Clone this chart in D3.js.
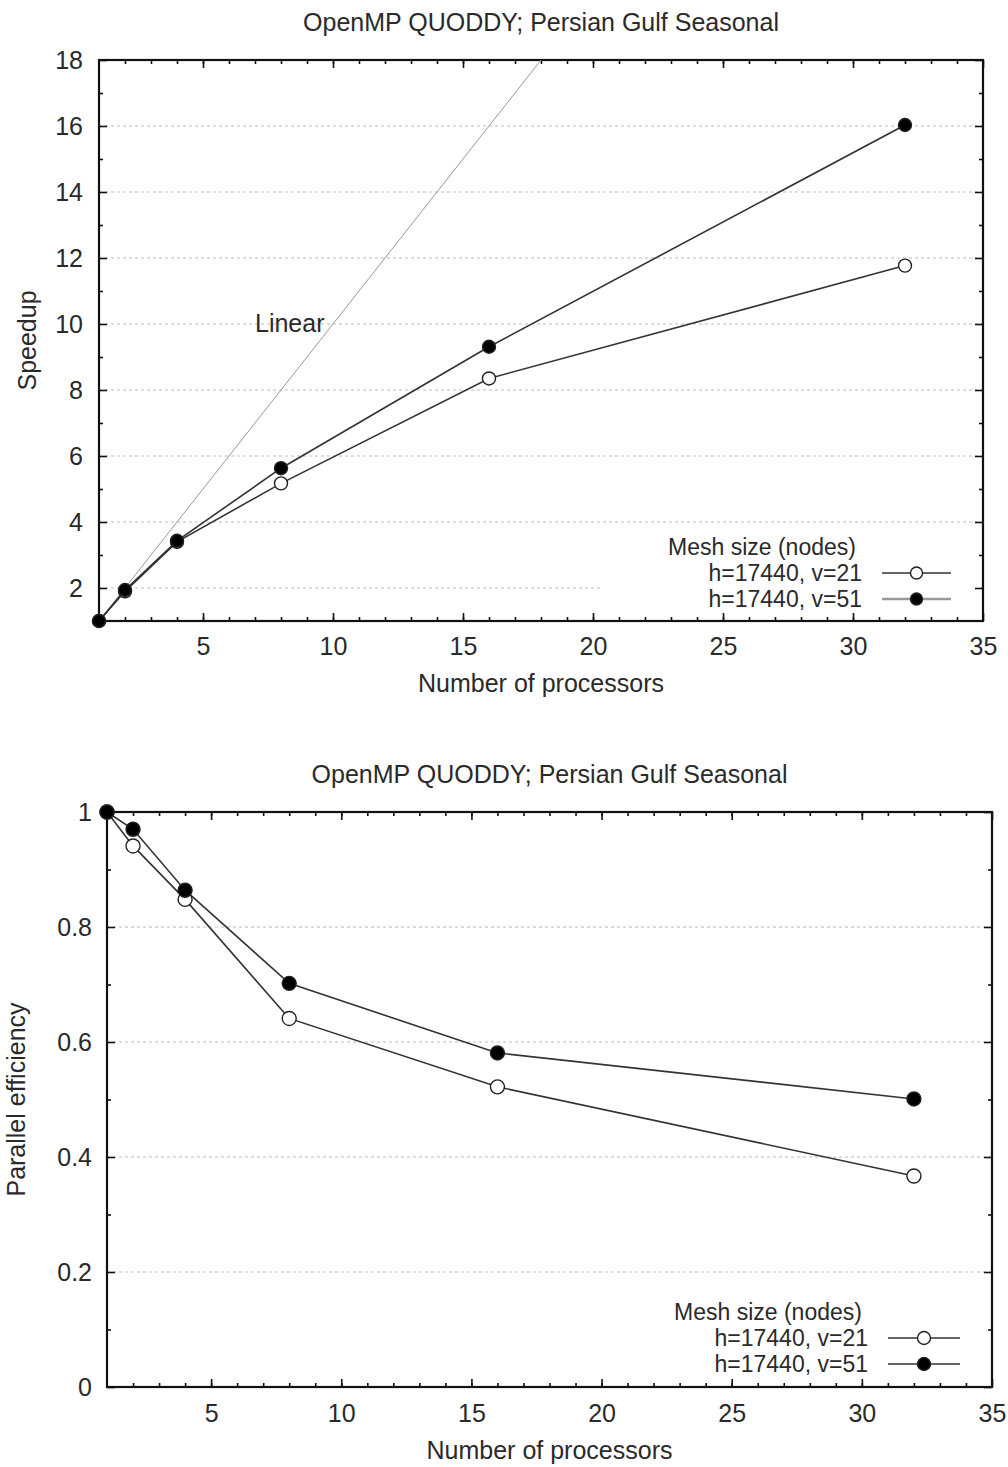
<!DOCTYPE html>
<html>
<head>
<meta charset="utf-8">
<script src="https://cdn.jsdelivr.net/npm/d3@7"></script>
<style>
  body { margin: 0; background: #fff; }
  text { font-family: "Liberation Sans", Arial, sans-serif; fill: #2a2a2a; }
</style>
</head>
<body>
<div id="chart"></div>
<script>
// data
const procs = [1, 2, 4, 8, 16, 32];
const speedup21 = [1, 1.9, 3.4, 5.17, 8.35, 11.77];
const speedup51 = [1, 1.94, 3.43, 5.63, 9.31, 16.03];
const eff21 = [1, 0.941, 0.848, 0.641, 0.522, 0.367];
const eff51 = [1, 0.97, 0.864, 0.702, 0.581, 0.501];
const linear = [1, 18];
const xTicks = [5, 10, 15, 20, 25, 30, 35];
const speedTicks = [2, 4, 6, 8, 10, 12, 14, 16, 18];
const effTicks = [0, 0.2, 0.4, 0.6, 0.8, 1];
const seriesNames = ["h=17440, v=21", "h=17440, v=51"];
const title = "OpenMP QUODDY; Persian Gulf Seasonal";

const fs = 25;
const legendFs = 23;
const width = 1008, height = 1467;
const svg = d3.select("#chart").append("svg")
    .attr("width", width)
    .attr("height", height);

function drawChart(cfg) {
    const g = svg.append("g");
    const x = d3.scaleLinear().domain([1, 35]).range([cfg.left, cfg.right]);
    const y = d3.scaleLinear().domain(cfg.yDomain).range([cfg.bottom, cfg.top]);

    // dashed grid at major y ticks
    g.selectAll(".grid")
        .data(cfg.yTicks.filter(d => d > cfg.yDomain[0] && d < cfg.yDomain[1]))
        .enter().append("line")
        .attr("x1", cfg.left).attr("x2", cfg.right)
        .attr("y1", d => y(d)).attr("y2", d => y(d))
        .attr("stroke", "#bbb").attr("stroke-width", 1)
        .attr("stroke-dasharray", "3,3");

    // legend background (opaque, hides grid)
    if (cfg.legendBox) {
        g.append("rect")
            .attr("x", cfg.legendBox[0]).attr("y", cfg.legendBox[1])
            .attr("width", cfg.right - cfg.legendBox[0] - 2)
            .attr("height", cfg.bottom - cfg.legendBox[1] - 2)
            .attr("fill", "#fff");
    }

    // minor x ticks, bottom and top (inward)
    const minorX = d3.range(2, 35);
    g.append("g").attr("transform", `translate(0,${cfg.bottom})`)
        .call(d3.axisBottom(x).tickValues(minorX).tickSize(-4).tickFormat(""))
        .call(s => s.select(".domain").remove());
    g.append("g").attr("transform", `translate(0,${cfg.top})`)
        .call(d3.axisTop(x).tickValues(minorX).tickSize(-4).tickFormat(""))
        .call(s => s.select(".domain").remove());
    // major x ticks
    g.append("g").attr("transform", `translate(0,${cfg.bottom})`)
        .call(d3.axisBottom(x).tickValues(xTicks).tickSize(-8).tickPadding(cfg.xPad).tickFormat(d3.format("d")))
        .call(s => s.select(".domain").remove())
        .call(s => s.selectAll("text").attr("font-size", fs).attr("fill", "#2a2a2a"));
    g.append("g").attr("transform", `translate(0,${cfg.top})`)
        .call(d3.axisTop(x).tickValues(xTicks).tickSize(-8).tickFormat(""))
        .call(s => s.select(".domain").remove());
    // y minor
    g.append("g").attr("transform", `translate(${cfg.left},0)`)
        .call(d3.axisLeft(y).tickValues(cfg.minorY).tickSize(-4).tickFormat(""))
        .call(s => s.select(".domain").remove());
    g.append("g").attr("transform", `translate(${cfg.right},0)`)
        .call(d3.axisRight(y).tickValues(cfg.minorY).tickSize(-4).tickFormat(""))
        .call(s => s.select(".domain").remove());
    // y major
    g.append("g").attr("transform", `translate(${cfg.left},0)`)
        .call(d3.axisLeft(y).tickValues(cfg.yTicks).tickSize(-8).tickPadding(cfg.yPad).tickFormat(cfg.yFormat))
        .call(s => s.select(".domain").remove())
        .call(s => s.selectAll("text").attr("font-size", fs).attr("fill", "#2a2a2a"));
    g.append("g").attr("transform", `translate(${cfg.right},0)`)
        .call(d3.axisRight(y).tickValues(cfg.yTicks).tickSize(-8).tickFormat(""))
        .call(s => s.select(".domain").remove());
    g.selectAll(".tick line").attr("stroke", "#111").attr("stroke-width", 1.6);

    // frame
    g.append("rect")
        .attr("x", cfg.left).attr("y", cfg.top)
        .attr("width", cfg.right - cfg.left).attr("height", cfg.bottom - cfg.top)
        .attr("fill", "none").attr("stroke", "#111").attr("stroke-width", 2.2);

    // linear reference line
    if (cfg.linear) {
        g.append("line")
            .attr("x1", x(linear[0])).attr("y1", y(linear[0]))
            .attr("x2", x(linear[1])).attr("y2", y(linear[1]))
            .attr("stroke", "#999").attr("stroke-width", 1);
        g.append("text")
            .attr("x", x(7)).attr("y", y(9.75))
            .attr("font-size", fs).text("Linear");
    }

    const line = d3.line().x((d, i) => x(procs[i])).y(d => y(d));
    const series = [
        { vals: cfg.s21, fill: "#fff" },
        { vals: cfg.s51, fill: "#000" }
    ];
    series.forEach(s => {
        g.append("path").datum(s.vals)
            .attr("d", line)
            .attr("fill", "none").attr("stroke", "#333").attr("stroke-width", 1.6);
    });
    series.forEach(s => {
        g.selectAll(null).data(s.vals).enter().append("circle")
            .attr("cx", (d, i) => x(procs[i])).attr("cy", d => y(d))
            .attr("r", cfg.r)
            .attr("fill", s.fill).attr("stroke", "#222").attr("stroke-width", 1.4);
    });

    // legend
    const lg = cfg.legend;
    g.append("text")
        .attr("x", lg.cx).attr("y", lg.y0)
        .attr("text-anchor", "middle").attr("font-size", legendFs)
        .text("Mesh size (nodes)");
    seriesNames.forEach((name, i) => {
        const yy = lg.y0 + (i + 1) * lg.dy;
        g.append("text")
            .attr("x", lg.textX).attr("y", yy)
            .attr("text-anchor", "end").attr("font-size", legendFs)
            .text(name);
        g.append("line")
            .attr("x1", lg.lx1).attr("x2", lg.lx2)
            .attr("y1", yy - 8).attr("y2", yy - 8)
            .attr("stroke", i === 1 && cfg.grayLegend ? "#999" : "#333")
            .attr("stroke-width", i === 1 && cfg.grayLegend ? 2.5 : 1.4);
        g.append("circle")
            .attr("cx", (lg.lx1 + lg.lx2) / 2).attr("cy", yy - 8)
            .attr("r", cfg.r - 0.5)
            .attr("fill", series[i].fill).attr("stroke", "#222").attr("stroke-width", 1.4);
    });

    // titles
    g.append("text")
        .attr("x", (cfg.left + cfg.right) / 2).attr("y", cfg.top - 29)
        .attr("text-anchor", "middle").attr("font-size", fs)
        .text(title);
    g.append("text")
        .attr("x", (cfg.left + cfg.right) / 2).attr("y", cfg.bottom + cfg.xLabelDy)
        .attr("text-anchor", "middle").attr("font-size", fs)
        .text("Number of processors");
    g.append("text")
        .attr("transform", `translate(${cfg.yLabelX},${(cfg.top + cfg.bottom) / 2}) rotate(-90)`)
        .attr("text-anchor", "middle").attr("font-size", fs)
        .text(cfg.yLabel);
}

drawChart({
    left: 99, right: 983, top: 60, bottom: 621,
    yDomain: [1, 18], yTicks: speedTicks, minorY: d3.range(3, 18, 2),
    yFormat: d3.format("d"), xPad: 16, yPad: 16, xLabelDy: 71,
    s21: speedup21, s51: speedup51, r: 6.5,
    linear: true, grayLegend: true,
    legendBox: [603, 529],
    legend: { cx: 762, y0: 555, dy: 26, textX: 862, lx1: 882, lx2: 951 },
    yLabel: "Speedup", yLabelX: 36
});

drawChart({
    left: 107, right: 992, top: 812, bottom: 1387,
    yDomain: [0, 1], yTicks: effTicks, minorY: d3.range(1, 10, 2).map(d => d / 10),
    yFormat: d => d === 0 || d === 1 ? d3.format("d")(d) : d3.format(".1f")(d),
    xPad: 17, yPad: 15, xLabelDy: 72,
    s21: eff21, s51: eff51, r: 7,
    linear: false, grayLegend: false,
    legendBox: null,
    legend: { cx: 768, y0: 1320, dy: 26, textX: 868, lx1: 888, lx2: 960 },
    yLabel: "Parallel efficiency", yLabelX: 25
});
</script>
</body>
</html>
